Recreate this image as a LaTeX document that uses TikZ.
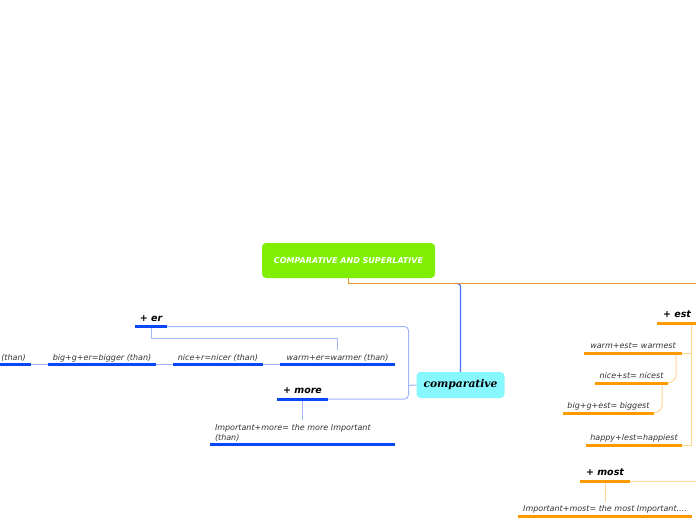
\documentclass[tikz,border=0pt]{standalone}
\usepackage{fontspec}
\setmainfont{DejaVu Sans}
\newfontfamily\compfont{DejaVu Serif}
\usepackage{xcolor}
\usepackage{tikz}
\usetikzlibrary{positioning, calc}
\definecolor{mapgreen}{RGB}{128,238,0}
\definecolor{mapcyan}{RGB}{136,248,255}
\definecolor{mapblue}{RGB}{8,72,246}
\definecolor{midblue}{RGB}{70,110,255}
\definecolor{paleblue}{RGB}{160,182,252}
\definecolor{maporange}{RGB}{255,153,0}
\definecolor{darkorange}{RGB}{228,150,40}
\definecolor{paleorange}{RGB}{255,214,150}
\tikzset{
  titlebox/.style={
    rectangle, rounded corners=4pt, fill=mapgreen, text=white,
    minimum width=173pt, minimum height=35pt,
    font=\bfseries\itshape\fontsize{8}{10}\selectfont
  },
  compbox/.style={
    rectangle, rounded corners=4pt, fill=mapcyan,
    minimum width=88pt, minimum height=26pt,
    font=\compfont\bfseries\itshape\fontsize{10.7}{12}\selectfont
  },
  leaf/.style={anchor=south, inner xsep=0pt, inner ysep=4pt, text depth=0pt,
    text=black!80, font=\itshape\fontsize{8}{10}\selectfont},
  headword/.style={anchor=south, inner xsep=0pt, inner ysep=5pt, text depth=0pt,
    font=\bfseries\itshape\fontsize{9.5}{11}\selectfont},
  blueline/.style={line width=3pt, color=mapblue},
  orangeline/.style={line width=3pt, color=maporange},
  blueconn/.style={line width=1pt, color=paleblue},
  orangeconn/.style={line width=1pt, color=paleorange},
}

\begin{document}
\begin{tikzpicture}[x=1pt, y=-1pt]
  \useasboundingbox (0,0) rectangle (696,520);
  \clip (0,0) rectangle (696,520);

  % Central topic and main branch
  \node[titlebox] (title) at (348.5,260.5) {COMPARATIVE AND SUPERLATIVE};
  \node[compbox] (comp) at (460.5,385) {comparative};
  \coordinate (supr) at (705,283.5);
  \coordinate (cjoin) at (455,283.5);
  \coordinate (cfork) at (408.5,385.5);

  % Comparative side
  \node[headword, minimum width=32pt] (er) at (151,326.5) {+ er};
  \node[leaf, minimum width=115pt] (warmer) at (337.5,364.5) {warm+er=warmer (than)};
  \node[leaf, minimum width=90pt] (nicer) at (218,364.5) {nice+r=nicer (than)};
  \node[leaf, minimum width=108pt] (bigger) at (102,364.5) {big+g+er=bigger (than)};
  \node[leaf, anchor=south east] (than) at (31,364.5) {(than)\hspace*{5pt}};
  \node[headword, minimum width=51pt] (more) at (302.5,399) {+ more};
  \node[leaf, text width=175pt, inner xsep=5pt, text depth=10pt, align=left] (impmore) at (302.5,444.5)
    {Important+more= the more Important\\(than)};

  % Superlative side
  \node[headword, minimum width=40pt] (est) at (677,323) {+ est};
  \node[leaf, minimum width=98pt] (warmest) at (633,353) {warm+est= warmest};
  \node[leaf, minimum width=73pt] (nicest) at (631.5,383) {nice+st= nicest};
  \node[leaf, minimum width=91pt] (biggest) at (608.5,413) {big+g+est= biggest};
  \node[leaf, minimum width=96pt] (happiest) at (634,445) {happy+lest=happiest};
  \node[headword, minimum width=50pt] (most) at (605,481) {+ most};
  \node[leaf, minimum width=174pt] (impmost) at (605,516) {Important+most= the most Important....};
  \coordinate (mostend) at (705,481);

  % Connectors
  \draw[midblue, line width=1.2pt, rounded corners=3pt] (cjoin) -| (comp.north);
  \draw[darkorange, line width=1pt] (title.south) |- (supr);
  \draw[blueconn] (comp.west) -- (cfork);
  \draw[blueconn, rounded corners=4pt] (er.south east) -| (cfork) |- (more.south east);
  \draw[blueconn] (er.south) |- ($(er.south)!0.5!(warmer.north)$) -| (warmer.north);
  \draw[blueconn, line width=1.5pt] (warmer.south west) -- (nicer.south east);
  \draw[blueconn, line width=1.5pt] (nicer.south west) -- (bigger.south east);
  \draw[blueconn, line width=1.5pt] (bigger.south west) -- (than.south east);
  \draw[blueconn] (more.south) -- (impmore.north);

  \draw[orangeconn] ([xshift=-6pt]est.south east) |- (warmest.south east);
  \draw[orangeconn] ([xshift=-6pt]est.south east) |- (happiest.south east);
  \draw[orangeconn, rounded corners=9pt] ([xshift=-6pt]warmest.south east) |- (nicest.south east);
  \draw[orangeconn, rounded corners=9pt] ([xshift=-6pt]nicest.south east) |- (biggest.south east);
  \draw[orangeconn] (most.south east) -- (mostend);
  \draw[orangeconn] (most.south) -- (impmost.north);

  % Underlines
  \foreach \n in {er, warmer, nicer, bigger, more, impmore}
    \draw[blueline] (\n.south west) -- (\n.south east);
  \draw[blueline] (than.south east) -- ++(-60,0);
  \foreach \n in {est, warmest, nicest, biggest, happiest, most, impmost}
    \draw[orangeline] (\n.south west) -- (\n.south east);
\end{tikzpicture}
\end{document}
